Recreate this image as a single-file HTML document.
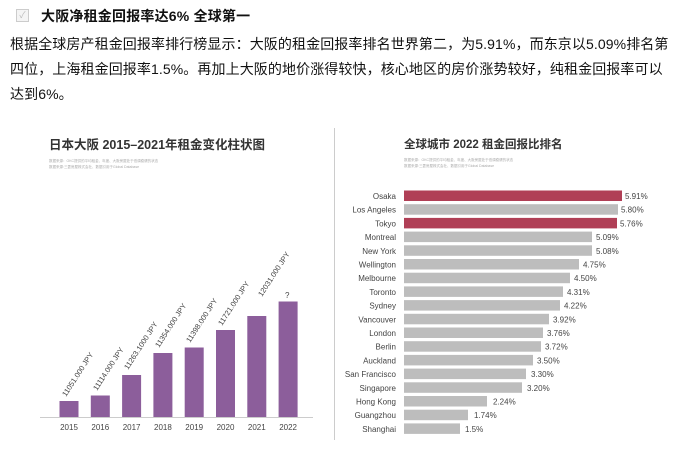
<!DOCTYPE html>
<html><head><meta charset="utf-8"><style>
html,body{margin:0;padding:0;background:#fff;width:676px;height:474px;overflow:hidden}
body{position:relative;font-family:"Liberation Sans","Noto Sans CJK SC",sans-serif;color:#111}
.t{position:absolute;white-space:nowrap}
</style></head><body>
<div class="t" style="left:16px;top:9px;width:11px;height:11px;border:1px solid #ccc;background:#f4f4f4;color:#bbb;font-size:9px;line-height:11px;text-align:center">✓</div>
<div class="t" style="left:41px;top:6px;font-size:14px;font-weight:bold;line-height:20px;letter-spacing:0.2px">大阪净租金回报率达6% 全球第一</div>
<div class="t" style="left:10px;top:32px;font-size:14px;line-height:25px;letter-spacing:0.1px">根据全球房产租金回报率排行榜显示：大阪的租金回报率排名世界第二，为5.91%，而东京以5.09%排名第<br>四位，上海租金回报率1.5%。再加上大阪的地价涨得较快，核心地区的房价涨势较好，纯租金回报率可以<br>达到6%。</div>
<svg width="676" height="474" style="position:absolute;left:0;top:0" font-family="Liberation Sans, Noto Sans CJK SC, sans-serif">
<text x="49" y="149" font-size="12.5" font-weight="bold" fill="#333">日本大阪 2015–2021年租金变化柱状图</text>
<text x="49" y="162" font-size="3.5" fill="#aaa">数据来源：OKC提供的平均租金、年度、大阪房屋处于低调稳健的状态</text>
<text x="49" y="168" font-size="3.5" fill="#aaa">数据来源:三菱房屋株式会社、数据引用于Global Database</text>
<line x1="40" y1="417.5" x2="313" y2="417.5" stroke="#ccc"/>
<g fill="#8c5e9b">
<rect x="59.5" y="401" width="19" height="16"/>
<rect x="90.8" y="395.5" width="19" height="21.5"/>
<rect x="122.1" y="375" width="19" height="42"/>
<rect x="153.4" y="353" width="19" height="64"/>
<rect x="184.7" y="347.5" width="19" height="69.5"/>
<rect x="216" y="330" width="19" height="87"/>
<rect x="247.3" y="316" width="19" height="101"/>
<rect x="278.6" y="301.5" width="19" height="115.5"/>
</g>
<g font-size="8" fill="#444" text-anchor="middle">
<text x="69" y="430">2015</text><text x="100.3" y="430">2016</text><text x="131.6" y="430">2017</text><text x="162.9" y="430">2018</text><text x="194.2" y="430">2019</text><text x="225.5" y="430">2020</text><text x="256.8" y="430">2021</text><text x="288.1" y="430">2022</text>
</g>
<g font-size="7.5" fill="#444">
<text transform="translate(66,397) rotate(-57)">11051.000 JPY</text>
<text transform="translate(97,391) rotate(-57)">11114.000 JPY</text>
<text transform="translate(128,370) rotate(-57)">11263.1000 JPY</text>
<text transform="translate(159,348) rotate(-57)">11354.000 JPY</text>
<text transform="translate(190,343) rotate(-57)">11398.000 JPY</text>
<text transform="translate(222,326) rotate(-57)">11721.000 JPY</text>
<text transform="translate(262,297) rotate(-57)">12031.000 JPY</text>
<text x="285" y="298" font-size="8">?</text>
</g>
<line x1="334.5" y1="128" x2="334.5" y2="440" stroke="#ccc"/>
<text x="404" y="148" font-size="11.5" font-weight="bold" fill="#333">全球城市 2022 租金回报比排名</text>
<text x="404" y="161" font-size="3.5" fill="#aaa">数据来源：OKC提供的平均租金、年度、大阪房屋处于低调稳健的状态</text>
<text x="404" y="167" font-size="3.5" fill="#aaa">数据来源:三菱房屋株式会社、数据引用于Global Database</text>
<g font-size="8" fill="#444">
<g text-anchor="end">
<text x="396" y="199">Osaka</text><text x="396" y="212.7">Los Angeles</text><text x="396" y="226.4">Tokyo</text><text x="396" y="240.1">Montreal</text><text x="396" y="253.8">New York</text><text x="396" y="267.5">Wellington</text><text x="396" y="281.2">Melbourne</text><text x="396" y="294.9">Toronto</text><text x="396" y="308.6">Sydney</text><text x="396" y="322.3">Vancouver</text><text x="396" y="336">London</text><text x="396" y="349.7">Berlin</text><text x="396" y="363.4">Auckland</text><text x="396" y="377.1">San Francisco</text><text x="396" y="390.8">Singapore</text><text x="396" y="404.5">Hong Kong</text><text x="396" y="418.2">Guangzhou</text><text x="396" y="431.9">Shanghai</text>
</g>
<rect x="404" y="190.5" width="218" height="10.5" fill="#b03f56"/>
<rect x="404" y="204.2" width="214" height="10.5" fill="#bdbdbd"/>
<rect x="404" y="217.9" width="213" height="10.5" fill="#b03f56"/>
<rect x="404" y="231.6" width="188" height="10.5" fill="#bdbdbd"/>
<rect x="404" y="245.3" width="188" height="10.5" fill="#bdbdbd"/>
<rect x="404" y="259" width="175" height="10.5" fill="#bdbdbd"/>
<rect x="404" y="272.7" width="166" height="10.5" fill="#bdbdbd"/>
<rect x="404" y="286.4" width="159" height="10.5" fill="#bdbdbd"/>
<rect x="404" y="300.1" width="156" height="10.5" fill="#bdbdbd"/>
<rect x="404" y="313.8" width="145" height="10.5" fill="#bdbdbd"/>
<rect x="404" y="327.5" width="139" height="10.5" fill="#bdbdbd"/>
<rect x="404" y="341.2" width="137" height="10.5" fill="#bdbdbd"/>
<rect x="404" y="354.9" width="129" height="10.5" fill="#bdbdbd"/>
<rect x="404" y="368.6" width="122" height="10.5" fill="#bdbdbd"/>
<rect x="404" y="382.3" width="118" height="10.5" fill="#bdbdbd"/>
<rect x="404" y="396" width="83" height="10.5" fill="#bdbdbd"/>
<rect x="404" y="409.7" width="64" height="10.5" fill="#bdbdbd"/>
<rect x="404" y="423.4" width="56" height="10.5" fill="#bdbdbd"/>
<text x="625" y="199">5.91%</text><text x="621" y="212.7">5.80%</text><text x="620" y="226.4">5.76%</text><text x="596" y="240.1">5.09%</text><text x="596" y="253.8">5.08%</text><text x="583" y="267.5">4.75%</text><text x="574" y="281.2">4.50%</text><text x="567" y="294.9">4.31%</text><text x="564" y="308.6">4.22%</text><text x="553" y="322.3">3.92%</text><text x="547" y="336">3.76%</text><text x="545" y="349.7">3.72%</text><text x="537" y="363.4">3.50%</text><text x="531" y="377.1">3.30%</text><text x="527" y="390.8">3.20%</text><text x="493" y="404.5">2.24%</text><text x="474" y="418.2">1.74%</text><text x="465" y="431.9">1.5%</text>
</g>
</svg>
</body></html>
